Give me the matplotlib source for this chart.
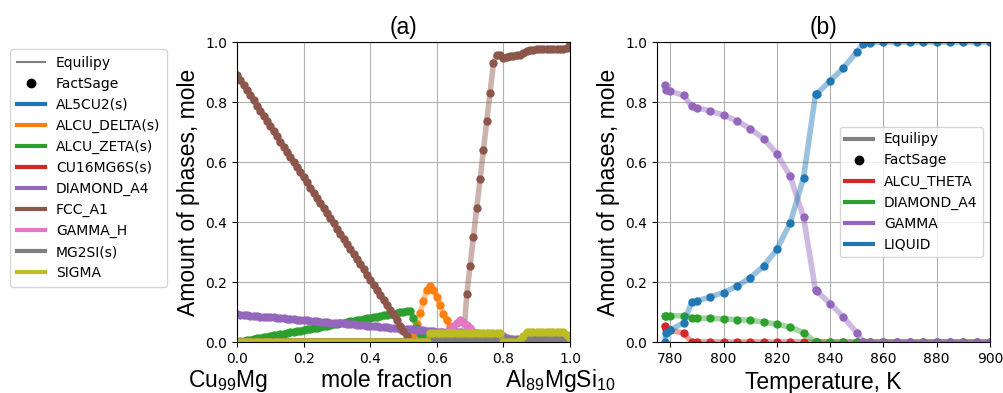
import numpy as np
import matplotlib
matplotlib.use("Agg")
import matplotlib.pyplot as plt
from matplotlib.lines import Line2D

plt.rcParams['font.family'] = ['DejaVu Sans']
plt.rcParams['font.size'] = 10
plt.rcParams['mathtext.fontset'] = 'custom'
plt.rcParams['mathtext.rm'] = 'Liberation Sans'
plt.rcParams['mathtext.it'] = 'Liberation Sans:italic'
LABEL_FONT = 'Liberation Sans'
LABEL_SIZE = 16.5

# ---------------- Panel (a): composition scan ----------------
x_frac = np.round(np.linspace(0.0, 1.0, 101), 2)

phases_a = ["AL5CU2(s)", "ALCU_DELTA(s)", "ALCU_ZETA(s)", "CU16MG6S(s)",
            "DIAMOND_A4", "FCC_A1", "GAMMA_H", "MG2SI(s)", "SIGMA"]
colors_a = ["tab:blue", "tab:orange", "tab:green", "tab:red", "tab:purple",
            "tab:brown", "tab:pink", "tab:gray", "tab:olive"]

al5cu2 = [0.0] * 101
cu16mg6s = [0.0] * 101

alcu_delta = ([0.0] * 53 +
              [0.022, 0.061, 0.097, 0.137, 0.172, 0.186, 0.172, 0.150, 0.122, 0.094,
               0.072, 0.050, 0.028, 0.011] +
              [0.0] * 34)

alcu_zeta = [0.000, 0.002, 0.004, 0.006, 0.008, 0.010, 0.012, 0.014, 0.016, 0.018,
             0.020, 0.022, 0.024, 0.026, 0.028, 0.030, 0.032, 0.034, 0.036, 0.038,
             0.040, 0.042, 0.044, 0.046, 0.048, 0.050, 0.053, 0.055, 0.057, 0.059,
             0.061, 0.063, 0.065, 0.067, 0.069, 0.071, 0.073, 0.075, 0.077, 0.079,
             0.081, 0.083, 0.085, 0.087, 0.089, 0.091, 0.093, 0.095, 0.097, 0.099,
             0.101, 0.103, 0.105, 0.080, 0.048, 0.028, 0.018, 0.010, 0.004] + [0.0] * 42

diamond_a4 = [0.092, 0.091, 0.090, 0.089, 0.088, 0.087, 0.086, 0.085, 0.084, 0.083,
              0.083, 0.082, 0.081, 0.080, 0.079, 0.078, 0.077, 0.076, 0.075, 0.074,
              0.073, 0.072, 0.071, 0.070, 0.069, 0.068, 0.067, 0.066, 0.065, 0.064,
              0.064, 0.063, 0.062, 0.061, 0.060, 0.059, 0.058, 0.057, 0.056, 0.055,
              0.054, 0.053, 0.052, 0.051, 0.050, 0.049, 0.048, 0.047, 0.046, 0.045,
              0.045, 0.044, 0.043, 0.042, 0.041, 0.040, 0.039, 0.038, 0.037, 0.036,
              0.035, 0.035, 0.034, 0.034, 0.033, 0.033, 0.032, 0.032, 0.031, 0.031,
              0.030, 0.029, 0.029, 0.028, 0.028, 0.027, 0.027, 0.026, 0.026, 0.025,
              0.020, 0.012] + [0.010] * 19

fcc_a1 = [0.890, 0.873, 0.856, 0.839, 0.822, 0.805, 0.788, 0.771, 0.754, 0.737,
          0.720, 0.702, 0.685, 0.668, 0.651, 0.634, 0.617, 0.600, 0.583, 0.566,
          0.549, 0.532, 0.515, 0.498, 0.481, 0.464, 0.447, 0.430, 0.413, 0.396,
          0.378, 0.361, 0.344, 0.327, 0.310, 0.293, 0.276, 0.259, 0.242, 0.225,
          0.208, 0.191, 0.174, 0.157, 0.140, 0.123, 0.106, 0.089, 0.072, 0.055,
          0.037, 0.020, 0.003, 0.0, 0.0, 0.0, 0.0, 0.0, 0.0, 0.0,
          0.0, 0.0, 0.0, 0.0, 0.0, 0.0, 0.0, 0.0, 0.0, 0.159,
          0.254, 0.351, 0.448, 0.542, 0.639, 0.737, 0.831, 0.929, 0.957, 0.957,
          0.946, 0.950, 0.952, 0.955, 0.956, 0.958, 0.965, 0.971, 0.973, 0.975,
          0.976, 0.976, 0.976, 0.976, 0.976, 0.976, 0.976, 0.976, 0.976, 0.981,
          0.992]

gamma_h = ([0.0] * 61 +
           [0.005, 0.015, 0.028, 0.040, 0.052, 0.064, 0.075, 0.068, 0.057, 0.046,
            0.035, 0.024, 0.013, 0.004] +
           [0.0] * 26)

mg2si = [0.0] * 58 + [0.006] * 43

sigma = ([0.0] * 58 + [0.030] * 22 + [0.0] * 5 +
         [0.008, 0.020, 0.032, 0.032, 0.032, 0.032, 0.032, 0.032, 0.032, 0.032,
          0.032, 0.032, 0.032, 0.032, 0.024, 0.012])

series_a = [al5cu2, alcu_delta, alcu_zeta, cu16mg6s, diamond_a4,
            fcc_a1, gamma_h, mg2si, sigma]

# ---------------- Panel (b): temperature scan ----------------
temps = [778.0, 778.3, 780, 785, 788, 790, 795, 800, 805, 810, 815, 820, 825,
         830, 834.5, 835, 840, 845, 850, 852.5, 855, 860, 865, 870, 875, 880,
         885, 890, 895, 900]
phases_b = ["ALCU_THETA", "DIAMOND_A4", "GAMMA", "LIQUID"]
colors_b = ["tab:red", "tab:green", "tab:purple", "tab:blue"]

alcu_theta = [0.053, 0.042, 0.040, 0.029] + [0.0] * 26
diamond_b = [0.088, 0.088, 0.088, 0.087, 0.081, 0.080, 0.079, 0.077, 0.075,
             0.072, 0.067, 0.059, 0.050, 0.031] + [0.0] * 16
gamma_b = [0.856, 0.839, 0.836, 0.822, 0.786, 0.781, 0.770, 0.756, 0.737,
           0.711, 0.678, 0.628, 0.552, 0.417, 0.172, 0.169, 0.128, 0.083,
           0.031] + [0.0] * 11
liquid = [0.0, 0.031, 0.040, 0.064, 0.132, 0.137, 0.150, 0.165, 0.186, 0.214,
          0.253, 0.309, 0.397, 0.547, 0.826, 0.828, 0.870, 0.914, 0.967, 0.995,
          0.998] + [1.0] * 9
series_b = [alcu_theta, diamond_b, gamma_b, liquid]

LW = 4.0
ALPHA = 0.45
MS = 5.0

fig = plt.figure(figsize=(10.04, 3.93), dpi=100)
ax1 = fig.add_axes([237 / 1004, 51 / 393, 333 / 1004, 300 / 393])
ax2 = fig.add_axes([657 / 1004, 51 / 393, 333 / 1004, 300 / 393])

for vals, c in zip(series_a, colors_a):
    ax1.plot(x_frac, vals, color=c, lw=LW, alpha=ALPHA)
    ax1.plot(x_frac, vals, 'o', color=c, ms=MS)

for vals, c in zip(series_b, colors_b):
    ax2.plot(temps, vals, color=c, lw=LW, alpha=ALPHA)
    ax2.plot(temps, vals, 'o', color=c, ms=MS)

for ax in (ax1, ax2):
    ax.set_ylim(0, 1)
    ax.set_yticks([0.0, 0.2, 0.4, 0.6, 0.8, 1.0])
    ax.grid(True, color='#b0b0b0', lw=0.8)
    ax.set_axisbelow(True)
    ax.set_ylabel("Amount of phases, mole", fontfamily=LABEL_FONT, fontsize=LABEL_SIZE)

ax1.set_xlim(0, 1)
ax1.set_xticks([0.0, 0.2, 0.4, 0.6, 0.8, 1.0])
ax2.set_xlim(775, 900)
ax2.set_xticks([780, 800, 820, 840, 860, 880, 900])

ax1.set_title("(a)", fontfamily=LABEL_FONT, fontsize=LABEL_SIZE)
ax2.set_title("(b)", fontfamily=LABEL_FONT, fontsize=LABEL_SIZE)
ax2.set_xlabel("Temperature, K", fontfamily=LABEL_FONT, fontsize=LABEL_SIZE)

yb = (393 - 386.7) / 393
fig.text(188 / 1004, yb, "Cu$_{99}$Mg", ha='left', va='baseline',
         fontfamily=LABEL_FONT, fontsize=LABEL_SIZE)
fig.text(386.7 / 1004, yb, "mole fraction", ha='center', va='baseline',
         fontfamily=LABEL_FONT, fontsize=LABEL_SIZE)
fig.text(505 / 1004, yb, "Al$_{89}$MgSi$_{10}$", ha='left', va='baseline',
         fontfamily=LABEL_FONT, fontsize=LABEL_SIZE)

# Legends
h_a = [Line2D([], [], color='gray', lw=1.5, label='Equilipy'),
       Line2D([], [], color='k', marker='o', ls='none', ms=6, label='FactSage')]
h_a += [Line2D([], [], color=c, lw=3, label=p) for p, c in zip(phases_a, colors_a)]
fig.legend(handles=h_a, loc='upper left', bbox_to_anchor=(10 / 1004, 1 - 49 / 393),
           borderaxespad=0, borderpad=0.5)

h_b = [Line2D([], [], color='gray', lw=3, label='Equilipy'),
       Line2D([], [], color='k', marker='o', ls='none', ms=6, label='FactSage')]
h_b += [Line2D([], [], color=c, lw=3, label=p) for p, c in zip(phases_b, colors_b)]
ax2.legend(handles=h_b, loc='center right')

fig.savefig("out.png", dpi=100)
